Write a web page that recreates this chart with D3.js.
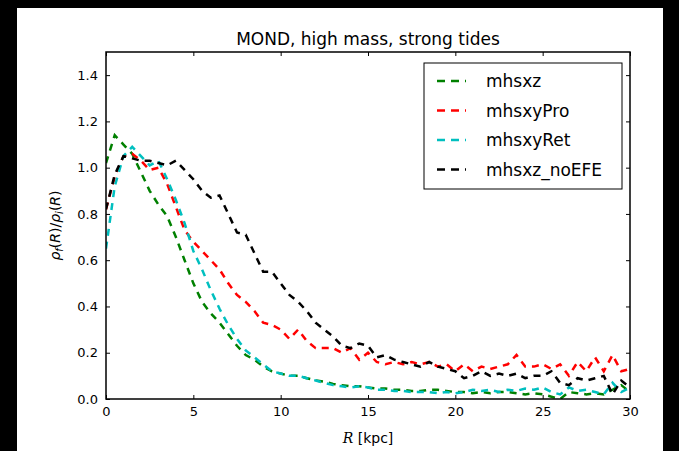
<!DOCTYPE html>
<meta charset="utf-8">
<style>
body { margin: 0; background: #000; }
text { font-family: "DejaVu Sans", sans-serif; }
</style>
<body>
<script src="https://d3js.org/d3.v7.min.js"></script>
<script>

// radius samples (kpc)
var radius = d3.range(0, 30.01, 0.5);

var mhsxz = [1.02, 1.14, 1.10, 1.06, 0.98, 0.90, 0.84, 0.79, 0.70, 0.60, 0.50, 0.42, 0.37, 0.33, 0.28, 0.23,
  0.19, 0.17, 0.14, 0.12, 0.11, 0.10, 0.10, 0.09, 0.08, 0.075, 0.065, 0.06, 0.055, 0.055, 0.05, 0.045,
  0.045, 0.04, 0.04, 0.035, 0.035, 0.04, 0.04, 0.035, 0.03, 0.03, 0.025, 0.03, 0.025, 0.03, 0.03, 0.025,
  0.02, 0.025, 0.02, 0.01, 0.0, 0.03, 0.025, 0.02, 0.025, 0.02, 0.04, 0.06, 0.03];

var mhsxyPro = [0.82, 0.96, 1.05, 1.06, 1.03, 0.99, 1.00, 0.93, 0.83, 0.73, 0.68, 0.64, 0.60, 0.56, 0.50, 0.45,
  0.42, 0.38, 0.33, 0.32, 0.30, 0.26, 0.30, 0.25, 0.22, 0.22, 0.22, 0.20, 0.22, 0.17, 0.20, 0.16,
  0.15, 0.16, 0.15, 0.16, 0.15, 0.16, 0.14, 0.15, 0.12, 0.15, 0.12, 0.14, 0.13, 0.14, 0.15, 0.19,
  0.14, 0.14, 0.15, 0.13, 0.15, 0.10, 0.16, 0.12, 0.18, 0.12, 0.19, 0.12, 0.13];

var mhsxyRet = [0.65, 0.92, 1.05, 1.09, 1.05, 1.01, 1.03, 0.95, 0.86, 0.76, 0.64, 0.56, 0.47, 0.39, 0.32, 0.26,
  0.21, 0.18, 0.15, 0.12, 0.11, 0.10, 0.10, 0.09, 0.08, 0.07, 0.06, 0.055, 0.05, 0.055, 0.05, 0.04,
  0.04, 0.035, 0.035, 0.03, 0.03, 0.03, 0.025, 0.03, 0.025, 0.03, 0.04, 0.035, 0.04, 0.03, 0.04, 0.035,
  0.045, 0.04, 0.05, 0.03, 0.02, 0.05, 0.035, 0.04, 0.03, 0.02, 0.07, 0.03, 0.05];

var mhsxz_noEFE = [0.82, 0.97, 1.05, 1.04, 1.03, 1.03, 1.02, 1.01, 1.03, 0.99, 0.95, 0.90, 0.87, 0.88, 0.80, 0.72,
  0.71, 0.63, 0.55, 0.55, 0.50, 0.45, 0.42, 0.38, 0.33, 0.30, 0.27, 0.23, 0.22, 0.24, 0.23, 0.18,
  0.19, 0.17, 0.16, 0.15, 0.14, 0.16, 0.14, 0.13, 0.12, 0.09, 0.10, 0.12, 0.10, 0.11, 0.10, 0.11,
  0.09, 0.10, 0.10, 0.12, 0.07, 0.06, 0.09, 0.08, 0.09, 0.10, 0.02, 0.08, 0.05];

var seriesNames = ["mhsxz", "mhsxyPro", "mhsxyRet", "mhsxz_noEFE"];
var seriesValues = [mhsxz, mhsxyPro, mhsxyRet, mhsxz_noEFE];
var colors = ["#008000", "#ff0000", "#00bfbf", "#000000"];

var xTicks = [0, 5, 10, 15, 20, 25, 30];
var yTicks = [0.0, 0.2, 0.4, 0.6, 0.8, 1.0, 1.2, 1.4];

var W = 679, H = 451;
var margin = {top: 52, right: 49, bottom: 52, left: 106};
var width = W - margin.left - margin.right,
    height = H - margin.top - margin.bottom;

var svg = d3.select("body").append("svg")
    .attr("width", W)
    .attr("height", H)
    .style("display", "block");

// black frame round the figure, white figure face
svg.append("rect").attr("width", W).attr("height", H).attr("fill", "#000");
svg.append("rect").attr("x", 17).attr("y", 8).attr("width", 646).attr("height", H - 8).attr("fill", "#fff");

var x = d3.scaleLinear().domain([0, 30]).range([0, width]);
var y = d3.scaleLinear().domain([0, 1.5]).range([height, 0]);

var g = svg.append("g")
    .attr("transform", "translate(" + margin.left + "," + margin.top + ")");

g.append("clipPath").attr("id", "clip")
  .append("rect").attr("width", width).attr("height", height);

var line = d3.line()
    .x(function(d, i) { return x(radius[i]); })
    .y(function(d) { return y(d); });

g.append("g").attr("clip-path", "url(#clip)")
  .selectAll("path")
  .data(seriesValues)
  .enter().append("path")
    .attr("d", line)
    .attr("fill", "none")
    .attr("stroke", function(d, i) { return colors[i]; })
    .attr("stroke-width", 2.5)
    .attr("stroke-dasharray", "7,6");

// axes, ticks pointing inward on all four sides
g.append("g")
    .attr("transform", "translate(0," + height + ")")
    .call(d3.axisBottom(x).tickValues(xTicks).tickSizeInner(-4).tickSizeOuter(0).tickPadding(8))
    .call(function(a) {
      a.select(".domain").remove();
      a.selectAll("text").attr("font-size", 13).attr("font-family", "DejaVu Sans").attr("fill", "#000");
    });

g.append("g")
    .call(d3.axisLeft(y).tickValues(yTicks).tickFormat(d3.format(".1f")).tickSizeInner(-4).tickSizeOuter(0).tickPadding(8))
    .call(function(a) {
      a.select(".domain").remove();
      a.selectAll("text").attr("font-size", 13).attr("font-family", "DejaVu Sans").attr("fill", "#000");
    });

g.append("g")
    .call(d3.axisTop(x).tickValues(xTicks).tickSizeInner(-4).tickSizeOuter(0).tickFormat(""))
    .call(function(a) { a.select(".domain").remove(); });

g.append("g")
    .attr("transform", "translate(" + width + ",0)")
    .call(d3.axisRight(y).tickValues(yTicks).tickSizeInner(-4).tickSizeOuter(0).tickFormat(""))
    .call(function(a) { a.select(".domain").remove(); });

g.append("rect")
    .attr("width", width).attr("height", height)
    .attr("fill", "none").attr("stroke", "#000").attr("stroke-width", 1.5);

// title
svg.append("text")
    .attr("x", margin.left + width / 2).attr("y", 45)
    .attr("text-anchor", "middle")
    .attr("font-size", 17)
    .text("MOND, high mass, strong tides");

// x label
var xl = svg.append("text")
    .attr("x", margin.left + width / 2).attr("y", 443)
    .attr("text-anchor", "middle")
    .attr("font-size", 14);
xl.append("tspan").attr("font-family", "DejaVu Serif").attr("font-style", "italic").text("R");
xl.append("tspan").text(" [kpc]");

// y label
var yl = svg.append("text")
    .attr("transform", "translate(60," + (margin.top + height / 2) + ") rotate(-90)")
    .attr("text-anchor", "middle")
    .attr("font-size", 14)
    .attr("font-family", "DejaVu Serif")
    .attr("font-style", "italic");
yl.append("tspan").text("ρ");
yl.append("tspan").attr("font-size", 10).attr("dy", 3).text("f");
yl.append("tspan").attr("dy", -3).attr("font-style", "normal").text("(");
yl.append("tspan").text("R");
yl.append("tspan").attr("font-style", "normal").text(")/");
yl.append("tspan").text("ρ");
yl.append("tspan").attr("font-size", 10).attr("dy", 3).text("i");
yl.append("tspan").attr("dy", -3).attr("font-style", "normal").text("(");
yl.append("tspan").text("R");
yl.append("tspan").attr("font-style", "normal").text(")");

// legend
var legend = svg.append("g").attr("transform", "translate(424,63)");
legend.append("rect")
    .attr("width", 198).attr("height", 126)
    .attr("fill", "#fff").attr("stroke", "#000").attr("stroke-width", 1);

var items = legend.selectAll(".item")
    .data(seriesNames)
  .enter().append("g")
    .attr("class", "item")
    .attr("transform", function(d, i) { return "translate(0," + (18 + i * 29.5) + ")"; });

items.append("line")
    .attr("x1", 13).attr("x2", 42)
    .attr("stroke", function(d, i) { return colors[i]; })
    .attr("stroke-width", 2.5)
    .attr("stroke-dasharray", "8,6");

items.append("text")
    .attr("x", 62).attr("y", 6)
    .attr("font-size", 17)
    .text(function(d) { return d; });

</script>
</body>
